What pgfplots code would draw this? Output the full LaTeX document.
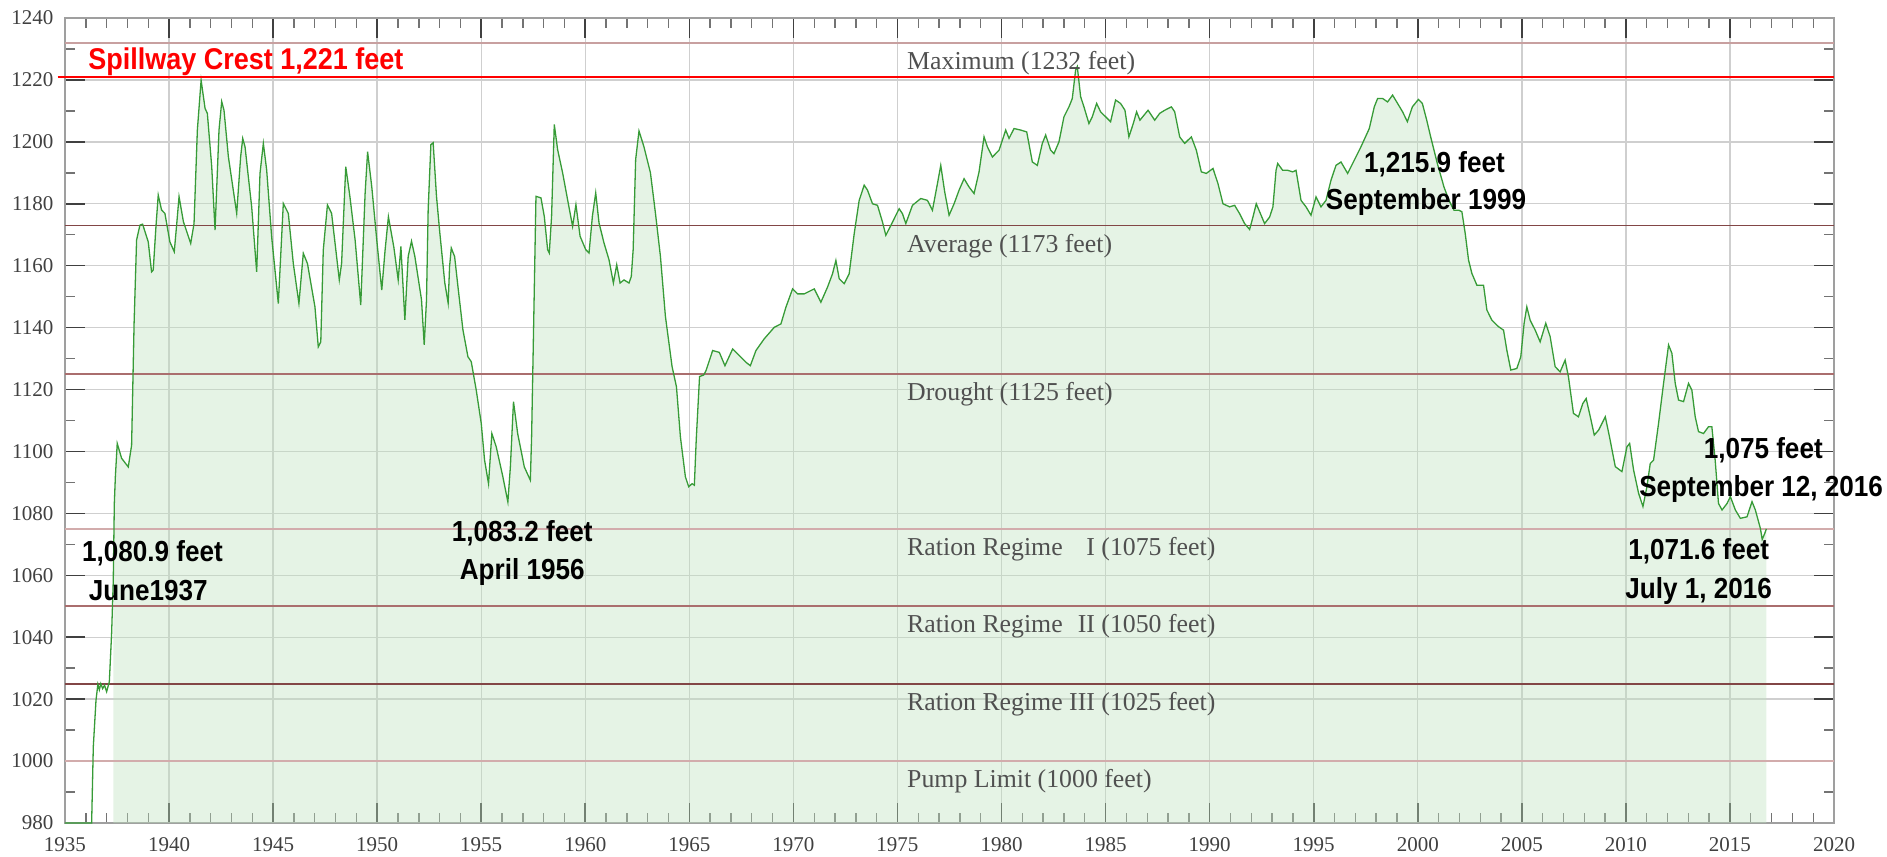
\documentclass[border=0pt]{standalone}
\usepackage{fontspec}
\setmainfont{Liberation Serif}
\newfontfamily\annfont[FakeStretch=0.9]{Liberation Sans}
\usepackage{pgfplots}
\usepackage{pgfplotstable}
\pgfplotsset{compat=1.18}
\definecolor{lgreen}{RGB}{55,155,55}
\definecolor{fillg}{RGB}{190,226,190}
\definecolor{tickgray}{RGB}{64,64,64}
\definecolor{labgray}{RGB}{80,80,80}
\definecolor{refA}{RGB}{200,160,160}
\definecolor{refB}{RGB}{130,70,70}
\definecolor{refC}{RGB}{170,110,110}
\definecolor{refD}{RGB}{210,172,172}

\pgfplotstableread{
t v
1935.00 980.0
1936.28 980.0
1936.36 1004.6
1936.49 1019.7
1936.58 1024.8
1936.65 1023.0
1936.72 1025.0
1936.81 1023.4
1936.90 1024.5
1937.00 1022.4
1937.13 1025.6
1937.24 1041.2
1937.32 1058.4
1937.37 1083.2
1937.42 1091.8
1937.51 1102.6
1937.72 1097.8
1938.04 1095.0
1938.20 1102.0
1938.32 1141.4
1938.44 1168.3
1938.60 1173.1
1938.73 1173.4
1939.00 1167.7
1939.16 1158.0
1939.24 1158.6
1939.37 1172.6
1939.48 1182.8
1939.64 1178.0
1939.80 1176.9
1940.04 1167.7
1940.25 1164.5
1940.37 1173.6
1940.48 1182.3
1940.69 1174.2
1941.04 1167.2
1941.20 1173.6
1941.36 1203.8
1941.54 1219.9
1941.73 1210.8
1941.84 1209.2
1942.05 1192.0
1942.21 1171.5
1942.40 1203.8
1942.53 1213.0
1942.64 1210.2
1942.85 1195.2
1943.25 1176.9
1943.44 1195.2
1943.54 1201.1
1943.65 1198.4
1943.97 1179.0
1944.21 1158.0
1944.37 1189.8
1944.53 1199.5
1944.69 1190.9
1944.93 1169.3
1945.25 1147.8
1945.49 1180.1
1945.73 1176.9
1945.97 1160.7
1946.24 1147.8
1946.45 1164.0
1946.65 1160.7
1947.01 1146.7
1947.17 1133.8
1947.29 1135.4
1947.41 1165.0
1947.61 1179.6
1947.81 1176.9
1948.18 1155.4
1948.29 1160.7
1948.49 1192.0
1948.69 1182.3
1948.94 1168.3
1949.21 1147.3
1949.42 1183.3
1949.54 1196.8
1949.74 1185.5
1949.98 1168.3
1950.22 1152.1
1950.38 1165.0
1950.54 1175.8
1950.80 1166.0
1951.01 1155.4
1951.14 1166.2
1951.33 1142.5
1951.49 1163.0
1951.65 1167.9
1951.81 1163.0
1952.13 1149.0
1952.26 1134.4
1952.37 1149.0
1952.45 1178.1
1952.58 1199.1
1952.69 1199.7
1952.85 1182.4
1953.01 1170.6
1953.25 1154.4
1953.41 1147.9
1953.48 1159.8
1953.56 1165.7
1953.72 1163.0
1953.88 1153.3
1954.12 1139.3
1954.36 1130.6
1954.52 1129.0
1954.76 1119.8
1955.00 1109.1
1955.16 1097.2
1955.35 1089.6
1955.51 1105.8
1955.72 1101.5
1956.04 1091.8
1956.28 1083.7
1956.40 1095.0
1956.55 1116.1
1956.75 1105.8
1957.07 1095.0
1957.36 1090.7
1957.42 1104.7
1957.52 1141.4
1957.63 1182.4
1957.87 1181.9
1958.03 1175.9
1958.19 1165.2
1958.27 1164.1
1958.38 1175.9
1958.51 1205.6
1958.67 1197.5
1958.91 1190.0
1959.15 1181.3
1959.39 1172.7
1959.55 1179.7
1959.75 1169.5
1960.02 1165.2
1960.18 1164.1
1960.34 1175.9
1960.50 1183.5
1960.66 1173.8
1960.90 1167.3
1961.14 1161.9
1961.35 1154.4
1961.51 1160.3
1961.67 1154.4
1961.86 1155.4
1962.10 1154.4
1962.21 1156.5
1962.30 1165.2
1962.42 1194.3
1962.58 1203.5
1962.81 1198.6
1963.13 1190.0
1963.37 1177.0
1963.61 1163.0
1963.85 1143.6
1964.17 1127.4
1964.38 1120.9
1964.57 1104.7
1964.81 1091.8
1964.97 1088.6
1965.13 1089.6
1965.24 1089.1
1965.33 1103.7
1965.49 1124.2
1965.69 1124.7
1965.80 1126.1
1966.12 1132.6
1966.44 1132.0
1966.71 1127.7
1967.08 1133.1
1967.40 1131.0
1967.72 1128.8
1967.93 1127.7
1968.20 1132.6
1968.60 1136.4
1969.08 1140.1
1969.40 1141.2
1969.64 1146.6
1969.96 1152.5
1970.20 1150.9
1970.52 1150.9
1971.00 1152.5
1971.32 1148.2
1971.64 1153.1
1971.88 1157.4
1972.04 1161.7
1972.20 1155.8
1972.44 1154.2
1972.68 1157.4
1972.92 1170.3
1973.16 1181.1
1973.40 1186.0
1973.56 1184.4
1973.80 1180.0
1974.04 1179.5
1974.28 1174.1
1974.44 1169.8
1974.68 1173.0
1975.08 1178.4
1975.24 1176.8
1975.40 1173.6
1975.72 1179.5
1976.12 1181.7
1976.44 1181.1
1976.68 1177.9
1976.92 1186.5
1977.08 1192.4
1977.27 1183.8
1977.48 1176.3
1977.72 1180.0
1977.96 1184.4
1978.20 1188.1
1978.44 1185.4
1978.68 1183.3
1978.92 1190.3
1979.16 1201.6
1979.32 1198.4
1979.56 1195.1
1979.88 1197.3
1980.04 1200.5
1980.20 1203.8
1980.36 1201.1
1980.60 1204.3
1980.92 1203.8
1981.21 1203.2
1981.48 1193.5
1981.72 1192.4
1981.96 1199.5
1982.12 1202.2
1982.36 1197.3
1982.52 1196.2
1982.76 1200.0
1983.00 1208.1
1983.24 1211.3
1983.40 1214.0
1983.56 1223.2
1983.64 1224.3
1983.80 1214.6
1983.96 1211.3
1984.20 1205.9
1984.36 1208.1
1984.57 1212.4
1984.76 1209.7
1985.24 1206.5
1985.48 1213.5
1985.72 1212.4
1985.93 1210.2
1986.12 1201.6
1986.33 1205.9
1986.49 1209.7
1986.65 1207.0
1987.04 1210.2
1987.36 1207.0
1987.60 1209.2
1987.84 1210.2
1988.16 1211.3
1988.32 1209.7
1988.56 1201.6
1988.80 1199.5
1989.12 1201.6
1989.36 1197.3
1989.60 1190.3
1989.84 1189.8
1990.16 1191.4
1990.40 1186.5
1990.64 1180.0
1990.96 1179.0
1991.20 1179.5
1991.44 1176.8
1991.68 1173.6
1991.92 1171.7
1992.08 1175.7
1992.24 1180.0
1992.44 1176.8
1992.64 1173.6
1992.88 1175.7
1993.04 1179.0
1993.19 1190.8
1993.27 1193.0
1993.51 1190.8
1993.75 1190.8
1993.99 1190.3
1994.15 1190.8
1994.39 1181.1
1994.63 1179.0
1994.87 1176.3
1995.11 1182.2
1995.35 1179.0
1995.59 1181.1
1995.83 1187.6
1996.07 1192.4
1996.31 1193.5
1996.63 1189.8
1996.95 1194.1
1997.27 1198.4
1997.67 1204.3
1997.91 1211.3
1998.07 1214.0
1998.31 1214.0
1998.55 1212.9
1998.79 1215.1
1999.03 1212.4
1999.27 1209.7
1999.50 1206.5
1999.74 1211.3
2000.03 1213.7
2000.22 1212.4
2000.43 1207.0
2000.62 1201.6
2000.94 1193.0
2001.26 1185.4
2001.50 1181.1
2001.74 1177.9
2001.98 1177.9
2002.12 1177.4
2002.28 1170.4
2002.44 1161.8
2002.60 1157.5
2002.84 1153.7
2003.16 1153.7
2003.32 1145.7
2003.56 1142.4
2003.88 1140.3
2004.12 1139.2
2004.28 1132.7
2004.47 1126.3
2004.76 1126.8
2004.95 1130.6
2005.11 1141.4
2005.24 1146.7
2005.40 1142.4
2005.64 1139.2
2005.88 1135.4
2006.15 1141.4
2006.36 1137.1
2006.60 1127.4
2006.84 1125.7
2007.08 1129.5
2007.24 1124.1
2007.48 1112.3
2007.72 1111.2
2007.93 1115.5
2008.09 1117.1
2008.29 1111.2
2008.48 1105.3
2008.69 1106.9
2009.01 1111.2
2009.21 1104.8
2009.49 1095.1
2009.81 1093.5
2010.05 1101.5
2010.18 1102.6
2010.37 1094.0
2010.61 1086.5
2010.82 1082.2
2011.01 1088.6
2011.17 1096.1
2011.33 1097.2
2011.57 1109.1
2011.81 1122.0
2012.05 1134.4
2012.21 1131.7
2012.37 1122.0
2012.53 1116.6
2012.77 1116.1
2013.01 1122.0
2013.17 1119.8
2013.33 1111.2
2013.49 1106.4
2013.73 1105.8
2013.97 1108.0
2014.13 1108.0
2014.29 1097.2
2014.45 1083.2
2014.62 1081.1
2014.86 1083.2
2015.02 1085.4
2015.26 1081.1
2015.50 1078.4
2015.82 1078.9
2016.06 1083.8
2016.22 1081.1
2016.46 1075.2
2016.55 1071.6
2016.67 1073.5
2016.75 1075.0
}\lakedata

\begin{document}
\begin{tikzpicture}
\begin{axis}[
  scale only axis, width=884.5pt, height=402.5pt,
  xmin=1935, xmax=2020, ymin=980, ymax=1240,
  xtick distance=5, ytick distance=20,
  minor x tick num=4, minor y tick num=1,
  tick align=inside, tick pos=both,
  xticklabel pos=lower, yticklabel pos=left,
  major tick length=10pt, minor tick length=5pt,
  every major tick/.style={line width=0.8pt, black!75},
  every minor tick/.style={line width=0.7pt, black!55},
  grid=major, major grid style={line width=0.7pt, color=gray!38},
  axis line style={line width=0.8pt, color=gray!75},
  tick label style={font=\fontsize{10.5}{12}\selectfont, text=tickgray},
  xticklabel style={yshift=-3.75pt},
  yticklabel style={xshift=-2.25pt},
  /pgf/number format/1000 sep={},
  /pgf/number format/assume math mode=true,
  clip mode=individual,
]
\addplot[draw=none, fill=fillg, fill opacity=0.4, restrict x to domain=1937.3:2017]
  table[x=t,y=v]{\lakedata} \closedcycle;

\addplot[refA, line width=0.75pt] coordinates {(1935,1232) (2020,1232)};
\addplot[refB, line width=0.9pt] coordinates {(1935,1173) (2020,1173)};
\addplot[refC, line width=0.8pt] coordinates {(1935,1125) (2020,1125)};
\addplot[refD, line width=0.7pt] coordinates {(1935,1075) (2020,1075)};
\addplot[refC, line width=0.8pt] coordinates {(1935,1050) (2020,1050)};
\addplot[refB, line width=0.9pt] coordinates {(1935,1025) (2020,1025)};
\addplot[refD, line width=0.7pt] coordinates {(1935,1000) (2020,1000)};

\addplot[lgreen, line width=0.65pt] table[x=t,y=v]{\lakedata};

\addplot[red, line width=1.1pt] coordinates {(1935,1221) (2020,1221)};
\draw[red, line width=1.1pt] (axis cs:1934.65,1221) -- (axis cs:1935,1221);

\begin{scope}[every node/.style={anchor=base west, inner sep=0pt, yshift=-13.3pt,
   text=labgray, font=\fontsize{12.9}{15}\selectfont}]
\node at (axis cs:1975.45,1232) {Maximum (1232 feet)};
\node at (axis cs:1975.45,1173) {Average (1173 feet)};
\node at (axis cs:1975.45,1125) {Drought (1125 feet)};
\node at (axis cs:1975.45,1075) {Ration Regime \phantom{II}I (1075 feet)};
\node at (axis cs:1975.45,1050) {Ration Regime \phantom{I}II (1050 feet)};
\node at (axis cs:1975.45,1025) {Ration Regime III (1025 feet)};
\node at (axis cs:1975.45,1000) {Pump Limit (1000 feet)};
\end{scope}

\node[anchor=base west, inner sep=0pt, text=red, font=\annfont\bfseries\fontsize{15}{18}\selectfont]
  at (axis cs:1936.1,1223.3) {Spillway Crest 1,221 feet};

\begin{scope}[every node/.style={anchor=base, inner sep=0pt, text=black,
   font=\annfont\bfseries\fontsize{14.5}{17}\selectfont}]
\node at (axis cs:1939.2,1064.4) {1,080.9 feet};
\node at (axis cs:1939.0,1052.0) {June1937};
\node at (axis cs:1956.97,1071.0) {1,083.2 feet};
\node at (axis cs:1956.97,1058.5) {April 1956};
\node at (axis cs:2000.8,1190.0) {1,215.9 feet};
\node at (axis cs:2000.4,1178.1) {September 1999};
\node at (axis cs:2016.6,1097.8) {1,075 feet};
\node at (axis cs:2016.5,1085.4) {September 12, 2016};
\node at (axis cs:2013.5,1065.0) {1,071.6 feet};
\node at (axis cs:2013.5,1052.6) {July 1, 2016};
\end{scope}
\end{axis}
\pgfresetboundingbox
\path ([shift={(-32.5pt,-16.5pt)}]current axis.south west) rectangle ([shift={(26.5pt,9pt)}]current axis.north east);
\end{tikzpicture}
\end{document}
